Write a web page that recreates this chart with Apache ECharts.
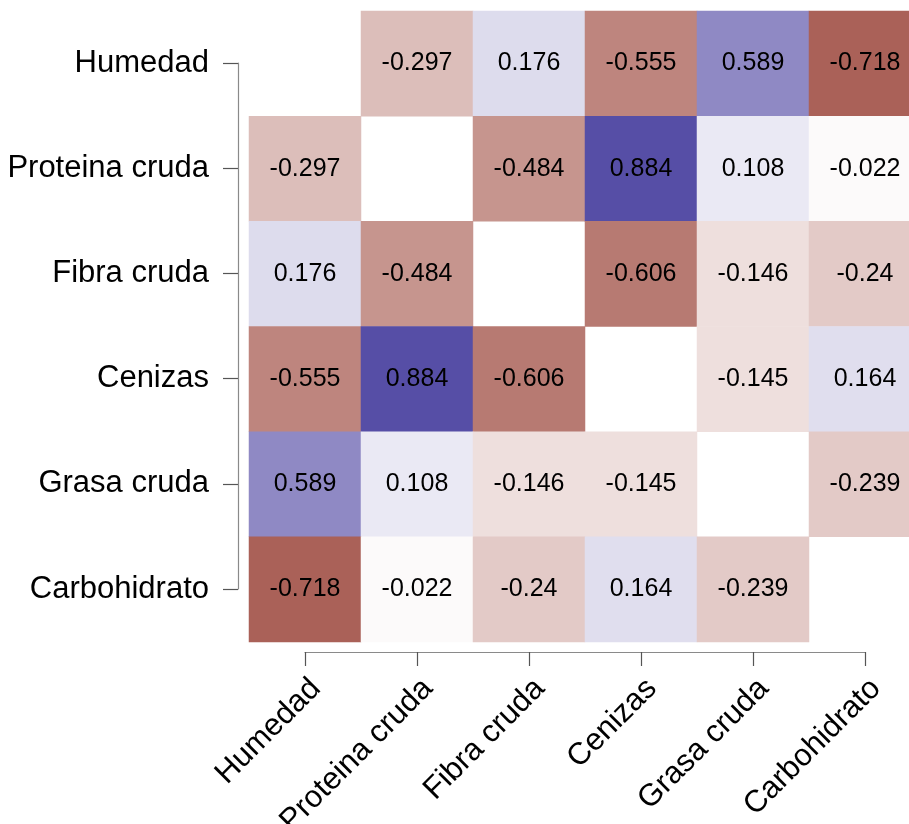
<!DOCTYPE html>
<html>
<head>
<meta charset="utf-8">
<script src="https://cdn.jsdelivr.net/npm/echarts@6/dist/echarts.min.js"></script>
<style>
  html, body { margin: 0; padding: 0; background: #ffffff; }
  #chart { width: 909px; height: 824px; }
</style>
</head>
<body>
<div id="chart"></div>
<script>
// Variables of the proximate composition
const variables = ['Humedad', 'Proteina cruda', 'Fibra cruda', 'Cenizas', 'Grasa cruda', 'Carbohidrato'];

// Correlation matrix rows (null on the diagonal)
const rowHumedad      = [null, -0.297, 0.176, -0.555, 0.589, -0.718];
const rowProteina     = [-0.297, null, -0.484, 0.884, 0.108, -0.022];
const rowFibra        = [0.176, -0.484, null, -0.606, -0.146, -0.24];
const rowCenizas      = [-0.555, 0.884, -0.606, null, -0.145, 0.164];
const rowGrasa        = [0.589, 0.108, -0.146, -0.145, null, -0.239];
const rowCarbohidrato = [-0.718, -0.022, -0.24, 0.164, -0.239, null];

const rows = [rowHumedad, rowProteina, rowFibra, rowCenizas, rowGrasa, rowCarbohidrato];

const cells = [];
rows.forEach(function (row, r) {
  row.forEach(function (v, c) {
    if (v !== null) cells.push([c, r, v]);
  });
});

const FONT = '"Liberation Sans", Arial, Helvetica, sans-serif';
const AXIS_COLOR = '#8a8a8a';

const chart = echarts.init(document.getElementById('chart'), null, { renderer: 'canvas' });

chart.setOption({
  backgroundColor: '#ffffff',
  animation: false,
  grid: [
    // heatmap cells
    { left: 249, right: -12, top: 11, bottom: 182, outerBoundsMode: 'none', containLabel: false },
    // axis frame: ticks centred on the cells
    { left: 305, right: 44, top: 63, bottom: 235, outerBoundsMode: 'none', containLabel: false }
  ],
  xAxis: [
    {
      gridIndex: 0, type: 'category', data: variables,
      show: false
    },
    {
      gridIndex: 1, type: 'category', data: variables,
      boundaryGap: false, position: 'bottom', offset: 63,
      axisLine: { show: true, lineStyle: { color: AXIS_COLOR, width: 1.2 } },
      axisTick: { show: true, length: 14, inside: false, lineStyle: { color: '#555555', width: 1.2 } },
      axisLabel: {
        interval: 0, rotate: 45, margin: 18,
        align: 'right', verticalAlign: 'top', padding: [2, 2, 0, 0],
        color: '#000000', fontSize: 31, fontFamily: FONT
      },
      splitLine: { show: false }
    }
  ],
  yAxis: [
    {
      gridIndex: 0, type: 'category', data: variables, inverse: true,
      show: false
    },
    {
      gridIndex: 1, type: 'category', data: variables, inverse: true,
      boundaryGap: false, position: 'left', offset: 67,
      axisLine: { show: true, lineStyle: { color: AXIS_COLOR, width: 1.2 } },
      axisTick: { show: true, length: 15, inside: false, lineStyle: { color: '#555555', width: 1.2 } },
      axisLabel: {
        interval: 0, margin: 29,
        color: '#000000', fontSize: 31, fontFamily: FONT
      },
      splitLine: { show: false }
    }
  ],
  visualMap: {
    show: false,
    type: 'continuous',
    min: -1, max: 1,
    dimension: 2,
    seriesIndex: 0,
    inRange: { color: ['#892316', '#ffffff', '#40379a'] }
  },
  series: [
    {
      type: 'heatmap',
      xAxisIndex: 0, yAxisIndex: 0,
      data: cells,
      itemStyle: { borderWidth: 0 },
      label: {
        show: true,
        color: '#000000',
        fontSize: 25,
        fontFamily: FONT,
        formatter: function (p) { return String(p.value[2]); }
      },
      emphasis: { disabled: true }
    }
  ]
});
</script>
</body>
</html>
